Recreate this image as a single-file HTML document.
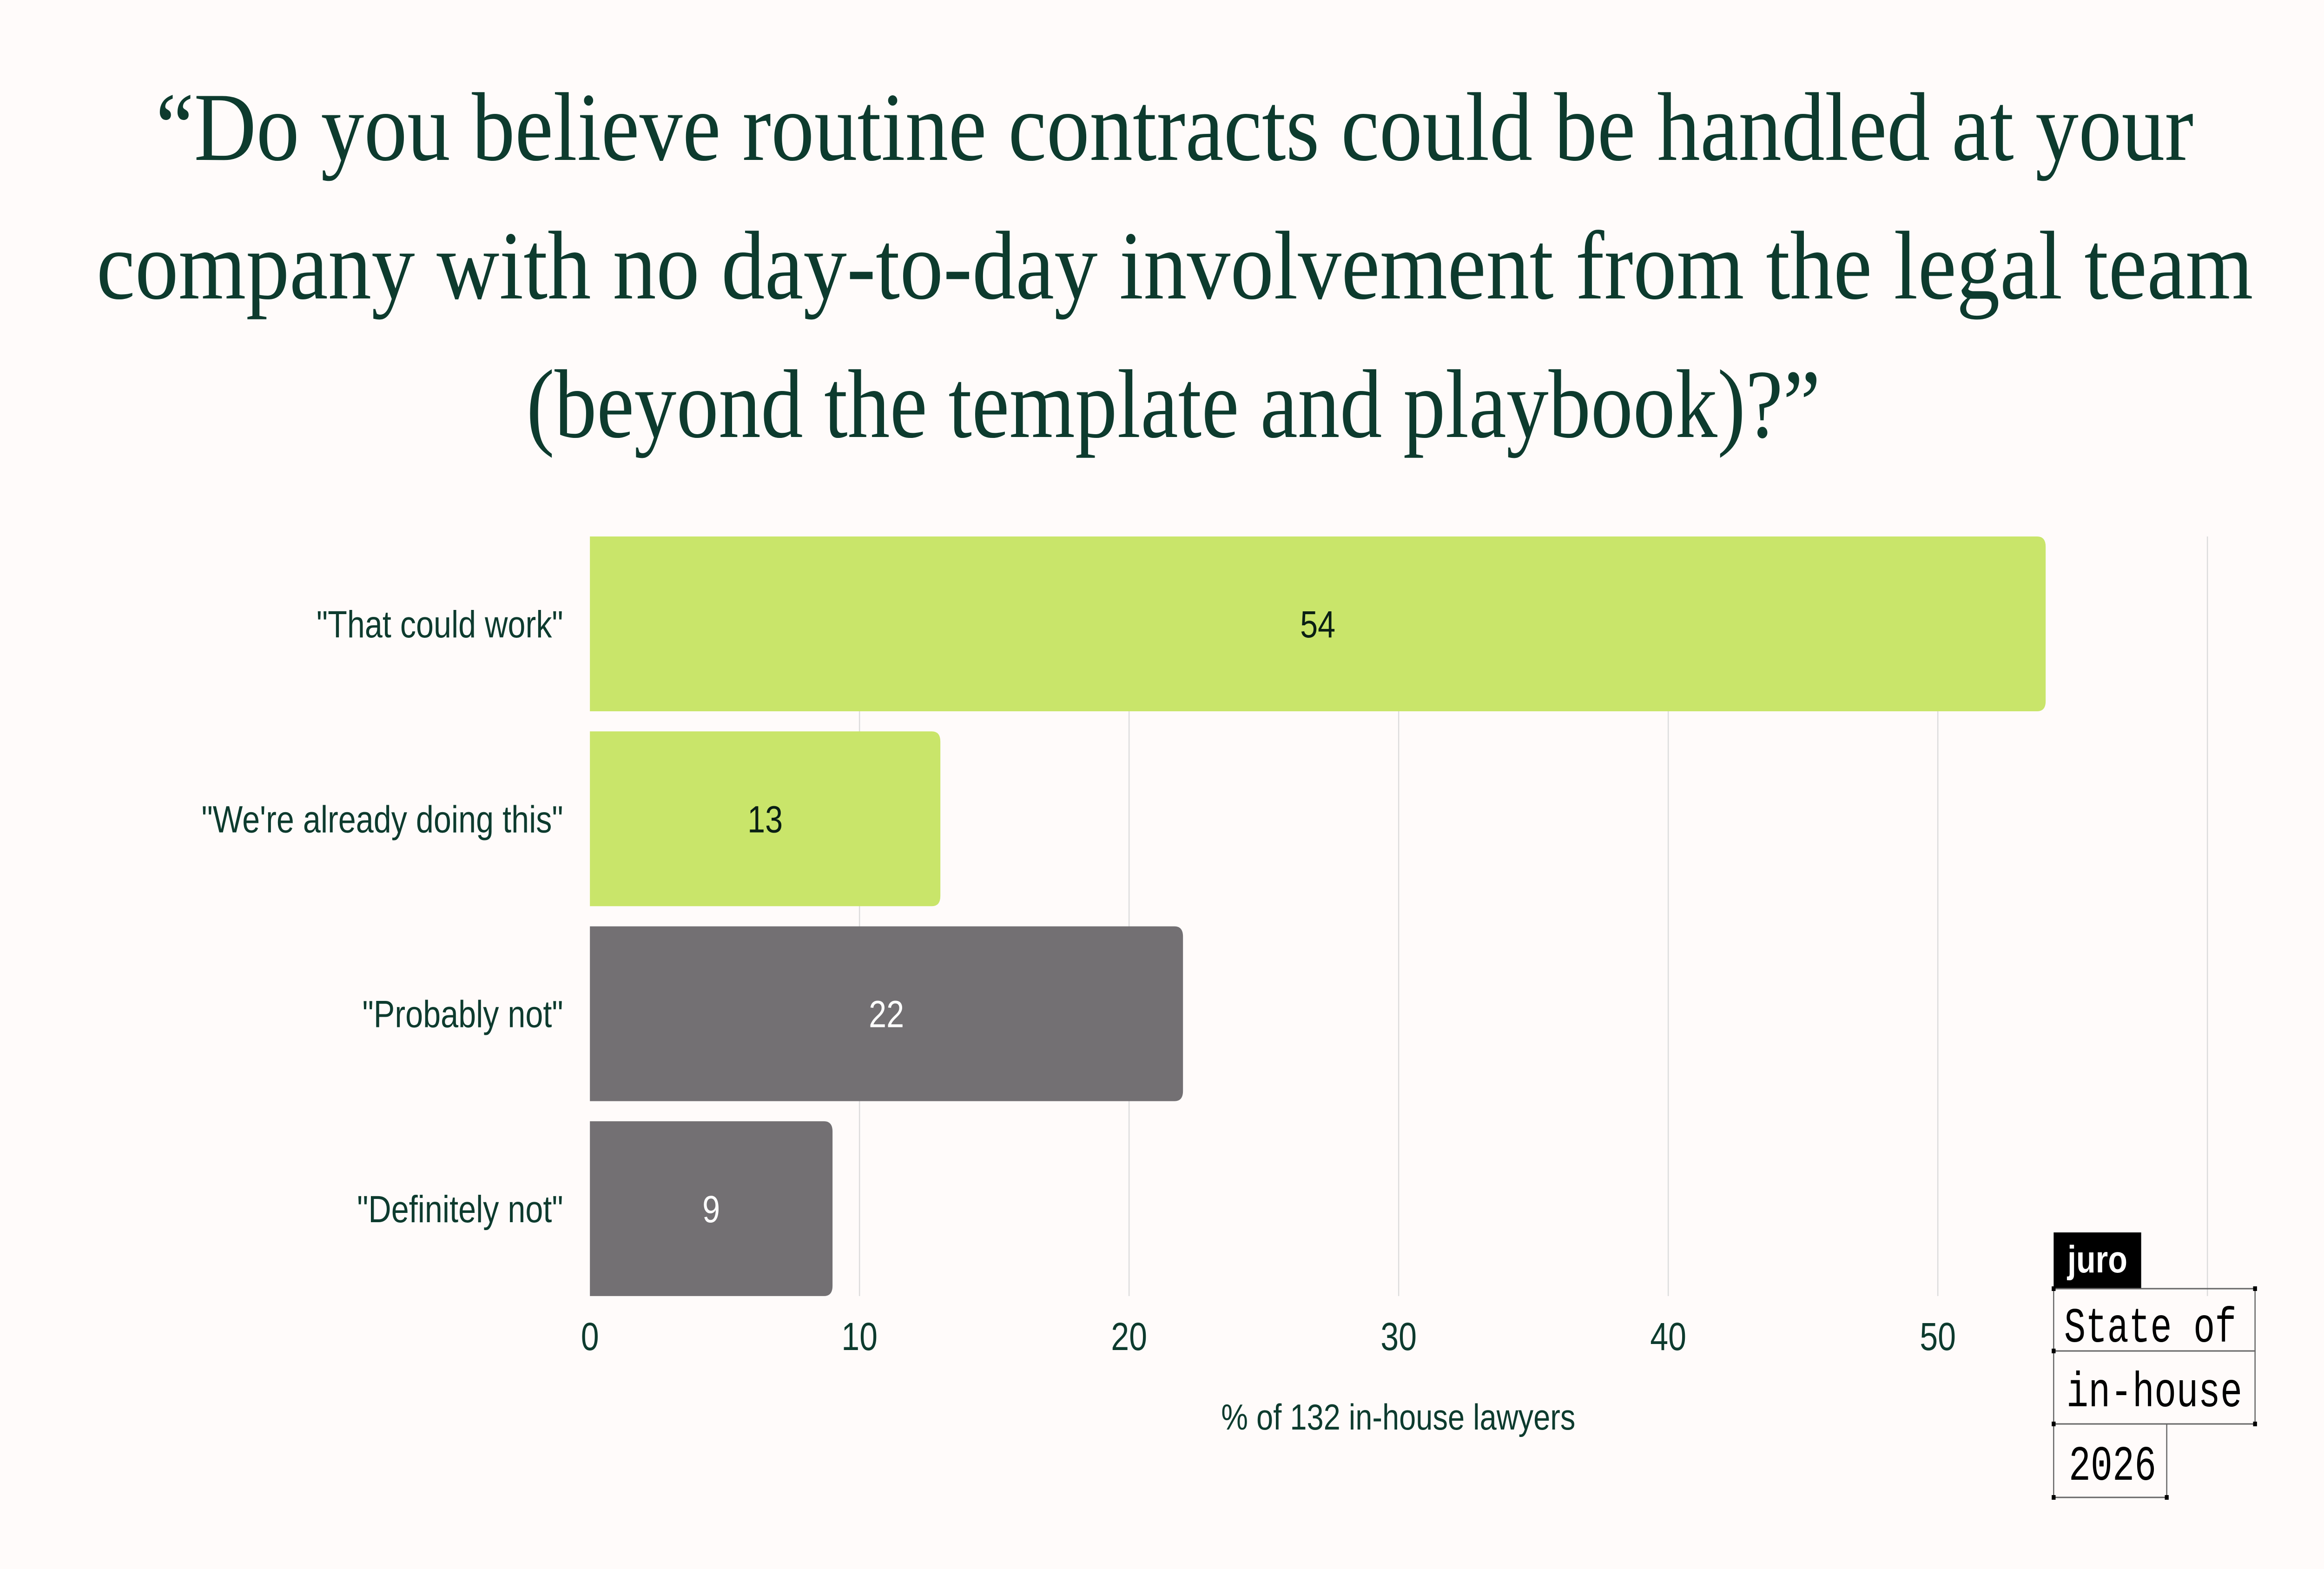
<!DOCTYPE html>
<html><head><meta charset="utf-8"><style>
html,body{margin:0;padding:0;background:#fffbfa;width:100vw;height:100vh;overflow:hidden;}
svg{display:block;width:100vw;height:100vh;}
</style></head><body>
<svg id="chart" viewBox="0 0 6000 3375" preserveAspectRatio="none" xmlns="http://www.w3.org/2000/svg">
<rect width="6000" height="3375" fill="#fffbfa"/>
<g font-family="Liberation Serif, serif" font-size="210" fill="#0d3b2e">
<text x="402" y="344" textLength="5261" lengthAdjust="spacingAndGlyphs">“Do you believe routine contracts could be handled at your</text>
<text x="249" y="642" textLength="5568" lengthAdjust="spacingAndGlyphs">company with no day-to-day involvement from the legal team</text>
<text x="1359" y="940" textLength="3341" lengthAdjust="spacingAndGlyphs">(beyond the template and playbook)?”</text>
</g>
<g id="grid"></g>
<g id="bars"></g>
<g id="xaxis"></g>
<text x="3610" y="3075" text-anchor="middle" font-family="Liberation Sans, sans-serif" font-size="78" fill="#0d3b2e">% of 132 in-house lawyers</text>
<g>
<rect x="5302" y="2651" width="226" height="121" fill="#000"/>
<text x="5415" y="2737" text-anchor="middle" font-family="Liberation Sans, sans-serif" font-weight="bold" font-size="82" fill="#fff">juro</text>
<g fill="none" stroke="#666" stroke-width="3">
<rect x="5302" y="2772" width="520" height="134"/>
<rect x="5302" y="2906" width="520" height="157"/>
<rect x="5302" y="3063" width="292" height="158"/>
</g>
<g fill="#000">
<rect x="5297" y="2767" width="10" height="10"/><rect x="5817" y="2767" width="10" height="10"/>
<rect x="5297" y="2901" width="10" height="10"/><rect x="5297" y="3058" width="10" height="10"/><rect x="5817" y="3058" width="10" height="10"/>
<rect x="5297" y="3216" width="10" height="10"/><rect x="5589" y="3216" width="10" height="10"/>
</g>
<g font-family="Liberation Mono, monospace" font-size="106" fill="#000">
<text x="5329" y="2886" textLength="445" lengthAdjust="spacingAndGlyphs">State of</text>
<text x="5335" y="3025" textLength="454" lengthAdjust="spacingAndGlyphs">in-house</text>
<text x="5341" y="3183" textLength="226" lengthAdjust="spacingAndGlyphs">2026</text>
</g>
</g>
</svg>
<script>
const categories = ['"That could work"', '"We\'re already doing this"', '"Probably not"', '"Definitely not"'];
const values = [54, 13, 22, 9];
const barColors = ['#c9e56a', '#c9e56a', '#737073', '#737073'];
const labelColors = ['#0a1f14', '#0a1f14', '#ffffff', '#ffffff'];
const ticks = [0, 10, 20, 30, 40, 50];
const gridTicks = [10, 20, 30, 40, 50, 60];

const NS = 'http://www.w3.org/2000/svg';
const plotX0 = 1523, unitPx = 69.6, plotTop = 1154, bandStep = 419.3, barH = 376;
const xs = v => plotX0 + v * unitPx;
const ys = i => plotTop + i * bandStep;
function mk(tag, attrs, parent) {
  const e = document.createElementNS(NS, tag);
  for (const k in attrs) e.setAttribute(k, attrs[k]);
  parent.appendChild(e);
  return e;
}
const grid = document.getElementById('grid');
gridTicks.forEach(t => {
  const l = mk('line', {x1: xs(t), x2: xs(t), y1: plotTop, y2: ys(3) + barH, stroke: '#dcdcdc', 'stroke-width': 3}, grid);
  
  
});
const bars = document.getElementById('bars');
categories.forEach((c, i) => {
  const w = xs(values[i]) - plotX0, y = ys(i), r = 22;
  const p = mk('path', {d: `M${plotX0},${y} H${plotX0 + w - r} Q${plotX0 + w},${y} ${plotX0 + w},${y + r} V${y + barH - r} Q${plotX0 + w},${y + barH} ${plotX0 + w - r},${y + barH} H${plotX0} Z`, fill: barColors[i]}, bars);
  
  
  const v = mk('text', {x: plotX0 + w / 2, y: y + barH / 2 + 29, 'text-anchor': 'middle', 'font-family': 'Liberation Sans, sans-serif', 'font-size': 82, fill: labelColors[i]}, bars);
  v.textContent = values[i];
  
  
  const lab = mk('text', {x: 1454, y: y + barH / 2 + 29, 'text-anchor': 'end', 'font-family': 'Liberation Sans, sans-serif', 'font-size': 82, fill: '#0d3b2e'}, bars);
  lab.textContent = c;
  
  
});
const xaxis = document.getElementById('xaxis');
ticks.forEach(t => {
  const tx = mk('text', {x: xs(t), y: 2904, 'text-anchor': 'middle', 'font-family': 'Liberation Sans, sans-serif', 'font-size': 84, fill: '#0d3b2e'}, xaxis);
  tx.textContent = t;
  
  
});
</script>
</body></html>
